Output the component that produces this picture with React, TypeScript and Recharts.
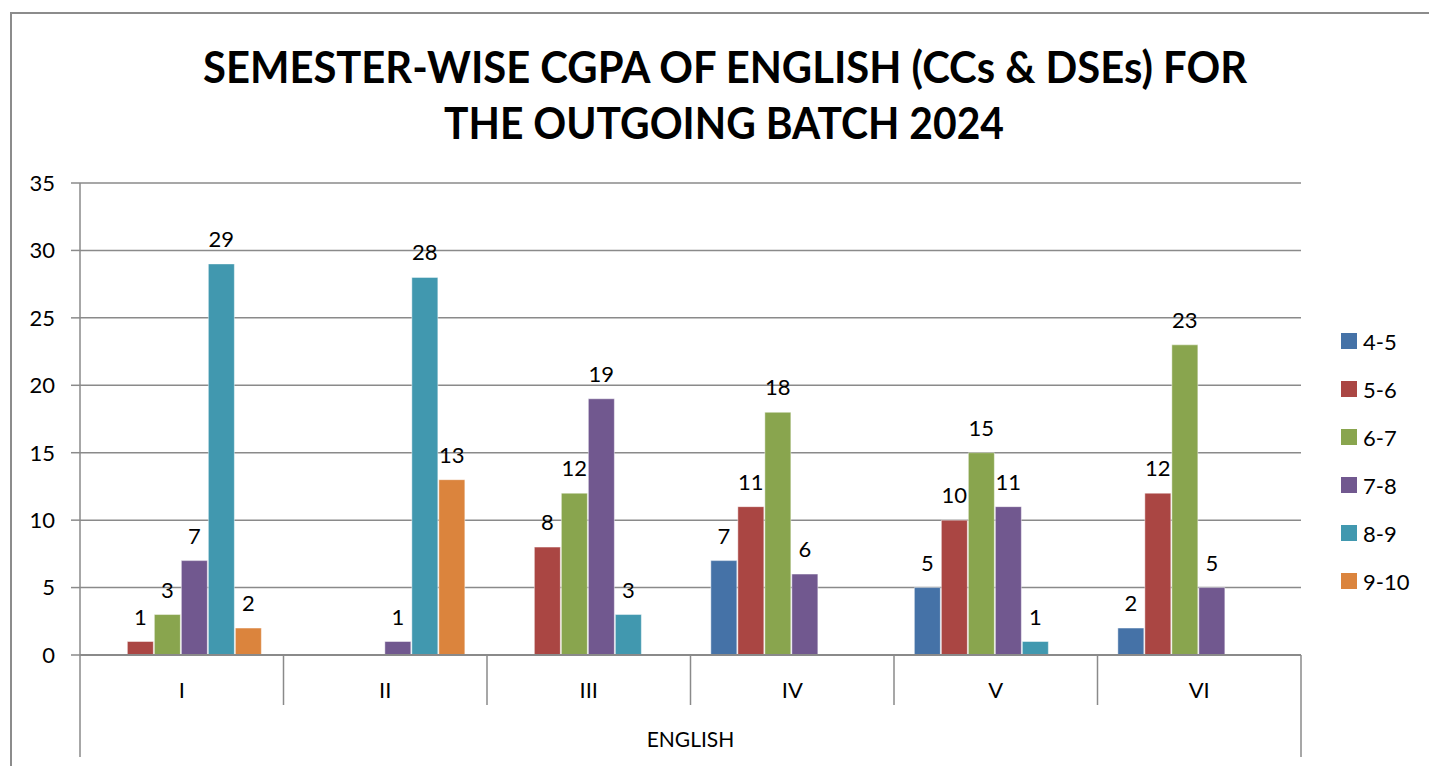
import React from 'react';
import {
  BarChart, Bar, XAxis, YAxis, CartesianGrid, LabelList
} from 'recharts';

const SEMESTERS = ['I', 'II', 'III', 'IV', 'V', 'VI'];
const SERIES = ['4-5', '5-6', '6-7', '7-8', '8-9', '9-10'];
const COLORS = ['#4572A7', '#AA4643', '#89A54E', '#71588F', '#4198AF', '#DB843D'];

// counts per CGPA band, one entry per semester (null = no bar)
const CGPA_4_5 = [null, null, null, 7, 5, 2];
const CGPA_5_6 = [1, null, 8, 11, 10, 12];
const CGPA_6_7 = [3, null, 12, 18, 15, 23];
const CGPA_7_8 = [7, 1, 19, 6, 11, 5];
const CGPA_8_9 = [29, 28, 3, null, 1, null];
const CGPA_9_10 = [2, 13, null, null, null, null];

const Y_TICKS = [0, 5, 10, 15, 20, 25, 30, 35];
const GROUP_LABEL = 'ENGLISH';
const TITLE = ['SEMESTER-WISE CGPA OF ENGLISH (CCs & DSEs) FOR', 'THE OUTGOING BATCH 2024'];

const VALUES = [CGPA_4_5, CGPA_5_6, CGPA_6_7, CGPA_7_8, CGPA_8_9, CGPA_9_10];

const data = SEMESTERS.map((sem, i) => {
  const row: Record<string, string | number | null> = { sem };
  SERIES.forEach((s, k) => { row[s] = VALUES[k][i]; });
  return row;
});

const W = 1429;
const H = 766;
const PLOT_LEFT = 80;
const PLOT_RIGHT = 1301;
const PLOT_TOP = 183;
const PLOT_BOTTOM = 655;
const BAND = (PLOT_RIGHT - PLOT_LEFT) / SEMESTERS.length;
const GRID = '#8a8a8a';
const FONT = 'Lato, "Open Sans", sans-serif';

const SemTick = (props: any) => {
  const { x, payload, index } = props;
  const last = index === SEMESTERS.length - 1;
  return (
    <g>
      {index === 0 && (
        <line x1={x - BAND / 2} x2={x - BAND / 2} y1={PLOT_BOTTOM} y2={757} stroke={GRID} strokeWidth={1.5} />
      )}
      <line x1={x + BAND / 2} x2={x + BAND / 2} y1={PLOT_BOTTOM} y2={last ? 757 : 705} stroke={GRID} strokeWidth={1.5} />
      <text x={x} y={698} textAnchor="middle" fontSize={22} fill="#000" fontFamily={FONT}>
        {payload.value}
      </text>
    </g>
  );
};

const BarLabel = (props: any) => {
  const { x, y, width, value } = props;
  if (value == null || value === 0) return null;
  return (
    <text x={x + width / 2} y={y - 17} textAnchor="middle" fontSize={22} fill="#000" fontFamily={FONT}>
      {value}
    </text>
  );
};

export default function App() {
  return (
    <div style={{ position: 'absolute', left: 0, top: 0, width: W, height: H, overflow: 'hidden', background: '#fff' }}>
      <div style={{ position: 'absolute', left: 10, top: 12, width: 1500, height: 900, border: '2px solid #8c8c8c' }} />
      <svg width={W} height={170} style={{ position: 'absolute', left: 0, top: 0 }}>
        <text x={725} y={83} textAnchor="middle" fontSize={44} fontWeight={700} fontFamily={FONT}
          textLength={1044} lengthAdjust="spacingAndGlyphs">{TITLE[0]}</text>
        <text x={724} y={139} textAnchor="middle" fontSize={44} fontWeight={700} fontFamily={FONT}
          textLength={560} lengthAdjust="spacingAndGlyphs">{TITLE[1]}</text>
      </svg>
      <div style={{ position: 'absolute', left: 0, top: 0 }}>
        <BarChart
          width={W}
          height={H}
          data={data}
          margin={{ top: PLOT_TOP, left: 0, right: W - PLOT_RIGHT, bottom: 0 }}
          barCategoryGap="10%"
          barGap={1}
        >
          <CartesianGrid vertical={false} stroke={GRID} strokeWidth={1.5} />
          <XAxis
            dataKey="sem"
            tick={<SemTick />}
            tickLine={false}
            axisLine={{ stroke: GRID, strokeWidth: 2 }}
            interval={0}
            height={H - PLOT_BOTTOM}
          />
          <YAxis
            domain={[0, 35]}
            ticks={Y_TICKS}
            interval={0}
            width={PLOT_LEFT}
            tickSize={9}
            tickMargin={16}
            tickLine={{ stroke: GRID, strokeWidth: 1.5 }}
            axisLine={{ stroke: GRID, strokeWidth: 1.5 }}
            tick={{ fontSize: 22, fill: '#000', fontFamily: FONT }}
          />
          {SERIES.map((s, i) => (
            <Bar key={s} dataKey={s} name={s} fill={COLORS[i]} stroke="#ffffff" strokeOpacity={0.45} strokeWidth={1}
              isAnimationActive={false}>
              <LabelList dataKey={s} content={<BarLabel />} />
            </Bar>
          ))}
        </BarChart>
      </div>
      <div style={{ position: 'absolute', left: 1341, top: 317, fontFamily: FONT, fontSize: 22 }}>
        {SERIES.map((s, i) => (
          <div key={s} style={{ display: 'flex', alignItems: 'center', height: 48 }}>
            <span style={{ width: 16, height: 16, background: COLORS[i], marginRight: 6 }} />
            <span>{s}</span>
          </div>
        ))}
      </div>
      <div style={{ position: 'absolute', left: PLOT_LEFT, width: PLOT_RIGHT - PLOT_LEFT, top: 726, textAlign: 'center', fontFamily: FONT, fontSize: 21 }}>
        {GROUP_LABEL}
      </div>
    </div>
  );
}
